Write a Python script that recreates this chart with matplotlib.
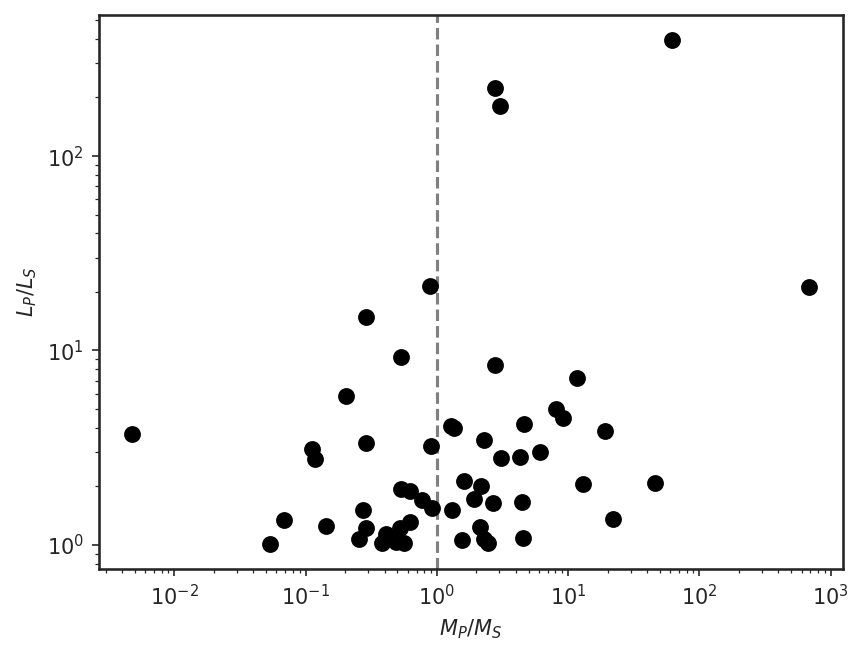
import numpy as np
import matplotlib
matplotlib.use('Agg')
import matplotlib.pyplot as plt
import seaborn as sns

# mass ratio and luminosity ratio
mass_ratio = [0.0048, 0.054, 0.068, 0.111, 0.117, 0.144, 0.204, 0.257, 0.275, 0.290,
              0.290, 0.290, 0.384, 0.412, 0.491, 0.565, 0.526, 0.627, 0.536, 0.627,
              0.536, 0.774, 0.891, 0.906, 0.923, 1.287, 1.356, 1.31, 1.555, 1.61,
              1.926, 2.14, 2.18, 2.295, 2.295, 2.46, 2.687, 2.782, 2.782, 3.038,
              3.09, 4.31, 4.47, 4.545, 4.63, 6.12, 8.10, 9.16, 11.71, 13.0,
              19.12, 22.0, 45.9, 61.8, 682.0]
lum_ratio = [3.72, 1.01, 1.345, 3.12, 2.77, 1.25, 5.83, 1.073, 1.513, 1.223,
             3.345, 14.87, 1.024, 1.139, 1.036, 1.024, 1.223, 1.313, 1.94, 1.895,
             9.26, 1.70, 21.46, 3.23, 1.55, 4.09, 4.00, 1.513, 1.061, 2.13,
             1.724, 1.237, 2.01, 3.47, 1.073, 1.024, 1.644, 8.42, 223.7, 180.7,
             2.80, 2.835, 1.664, 1.086, 4.19, 3.01, 5.00, 4.50, 7.22, 2.06,
             3.86, 1.36, 2.08, 394.6, 21.2]

sns.set_style('ticks')
plt.rcParams['font.family'] = ['DejaVu Sans']
plt.rcParams['axes.linewidth'] = 1.25
plt.rcParams['axes.edgecolor'] = '.15'

fig, ax = plt.subplots(figsize=(6.4, 4.8), dpi=150)
ax.scatter(mass_ratio, lum_ratio, s=50, c='black', zorder=3)
ax.axvline(1, color='gray', linestyle='--', zorder=2)
ax.set_xscale('log')
ax.set_yscale('log')
ax.set_xlabel('$M_P/M_S$')
ax.set_ylabel('$L_P/L_S$')

fig.savefig('out.png', dpi=150, bbox_inches='tight')
